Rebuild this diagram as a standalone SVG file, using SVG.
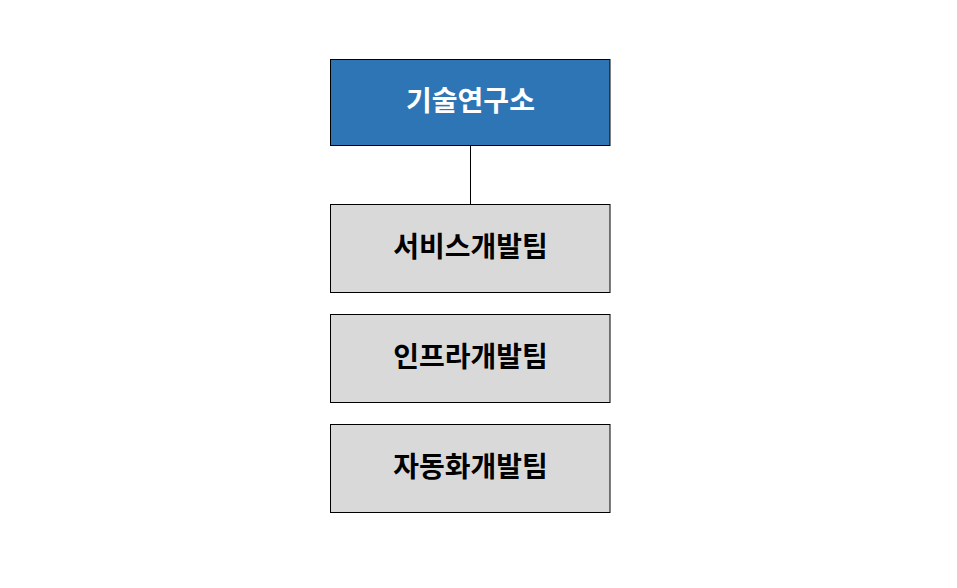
<svg xmlns="http://www.w3.org/2000/svg" width="957" height="588" viewBox="0 0 957 588">
<style>
.box{stroke:#000;stroke-width:1}
.top{fill:#2E75B6}
.sub{fill:#D9D9D9}
.lbl{font-family:"Noto Sans CJK KR","Noto Sans",sans-serif;font-size:28px;font-weight:bold;text-anchor:middle;dominant-baseline:central}
</style>
<rect width="957" height="588" fill="#fff"/>
<g id="connectors">
<line x1="470.5" y1="145" x2="470.5" y2="204" stroke="#000" stroke-width="1"/>
</g>
<g id="n1">
<rect class="box top" x="330.5" y="59.5" width="279.5" height="86"/>
<text class="lbl" x="470.5" y="99" fill="#fff">기술연구소</text>
</g>
<g id="n2">
<rect class="box sub" x="330.5" y="204.5" width="279.5" height="88"/>
<text class="lbl" x="470.5" y="245" fill="#000">서비스개발팀</text>
</g>
<g id="n3">
<rect class="box sub" x="330.5" y="314.5" width="279.5" height="88"/>
<text class="lbl" x="470.5" y="355" fill="#000">인프라개발팀</text>
</g>
<g id="n4">
<rect class="box sub" x="330.5" y="424.5" width="279.5" height="88"/>
<text class="lbl" x="470.5" y="465" fill="#000">자동화개발팀</text>
</g>
</svg>
